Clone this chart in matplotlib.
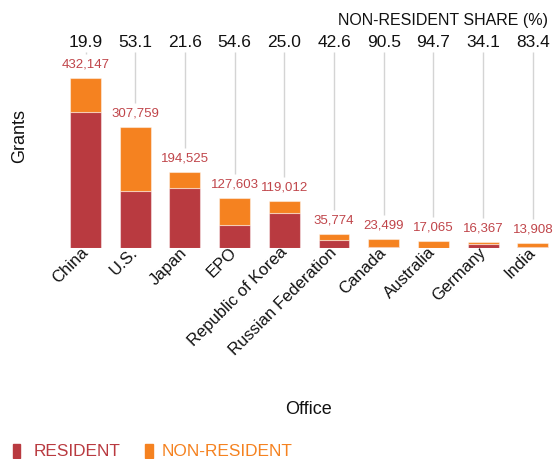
import matplotlib.pyplot as plt
from matplotlib.patches import Rectangle
from matplotlib.transforms import blended_transform_factory
import numpy as np

plt.rcParams["font.family"] = ["Liberation Sans", "DejaVu Sans"]

offices = ["China", "U.S.", "Japan", "EPO", "Republic of Korea",
           "Russian Federation", "Canada", "Australia", "Germany", "India"]
totals = [432147, 307759, 194525, 127603, 119012, 35774, 23499, 17065, 16367, 13908]
nonres_share = [19.9, 53.1, 21.6, 54.6, 25.0, 42.6, 90.5, 94.7, 34.1, 83.4]

RED = "#b93a40"
ORANGE = "#f58220"

totals_a = np.array(totals, dtype=float)
share_a = np.array(nonres_share)
resident = totals_a * (1 - share_a / 100)
nonresident = totals_a - resident

fig = plt.figure(figsize=(5.53, 4.59), dpi=100)
W, H = 553, 459
# axes in pixel terms: baseline at y=248, top at y=20, left 50 right 550
ax = fig.add_axes([50 / W, (H - 248) / H, 500 / W, 228 / H])
x = np.arange(len(offices))
px_per_unit = 49.7
ax.set_xlim((50 - 85.5) / px_per_unit, (550 - 85.5) / px_per_unit)
ymax = 228 * (432147 / 169.5)
ax.set_ylim(0, ymax)
per_px = ymax / 228

edge = (1, 1, 1, 0.45)
ax.bar(x, resident, width=0.62, color=RED, edgecolor=edge, linewidth=0.8)
ax.bar(x, nonresident, bottom=resident, width=0.62, color=ORANGE,
       edgecolor=edge, linewidth=0.8)

# value labels and connector lines
line_top = (248 - 52) * per_px
for i, t in enumerate(totals):
    ax.text(i, t + 13.5 * per_px, f"{t:,}", ha="center", va="center",
            fontsize=9.5, color="#c0454a")
    lb = t + 24 * per_px
    if lb < line_top:
        ax.vlines(i, lb, line_top, color="#d4d4d4", linewidth=1)

trans = blended_transform_factory(ax.transData, ax.transAxes)
for i, s in enumerate(nonres_share):
    ax.text(i, (248 - 43) / 228, f"{s:.1f}", transform=trans, ha="center",
            va="center", fontsize=12.5, color="#111111")

fig.text(548 / W, 1 - 20 / H, "NON-RESIDENT SHARE (%)", ha="right",
         va="center", fontsize=11.5, color="#111111")

ax.set_xticks(x)
ax.set_xticklabels(offices, rotation=45, ha="right", va="center",
                   rotation_mode="anchor", fontsize=12, color="#111111")
ax.tick_params(axis="x", length=0, pad=1.5)
ax.set_yticks([])
for sp in ax.spines.values():
    sp.set_visible(False)

fig.text(20 / W, 1 - 136 / H, "Grants", rotation=90, ha="center",
         va="center", fontsize=13, color="#111111")
fig.text(308 / W, 1 - 409 / H, "Office", ha="center", va="center",
         fontsize=13, color="#111111")

# legend
fig.patches.append(Rectangle((13 / W, 1 - 458 / H), 7 / W, 14 / H,
                             transform=fig.transFigure, color=RED))
fig.text(34 / W, 1 - 452 / H, "RESIDENT", ha="left", va="center",
         fontsize=12.4, color=RED)
fig.patches.append(Rectangle((145 / W, 1 - 458 / H), 8 / W, 14 / H,
                             transform=fig.transFigure, color=ORANGE))
fig.text(162 / W, 1 - 452 / H, "NON-RESIDENT", ha="left", va="center",
         fontsize=12.4, color=ORANGE)

fig.savefig("out.png", dpi=100)
